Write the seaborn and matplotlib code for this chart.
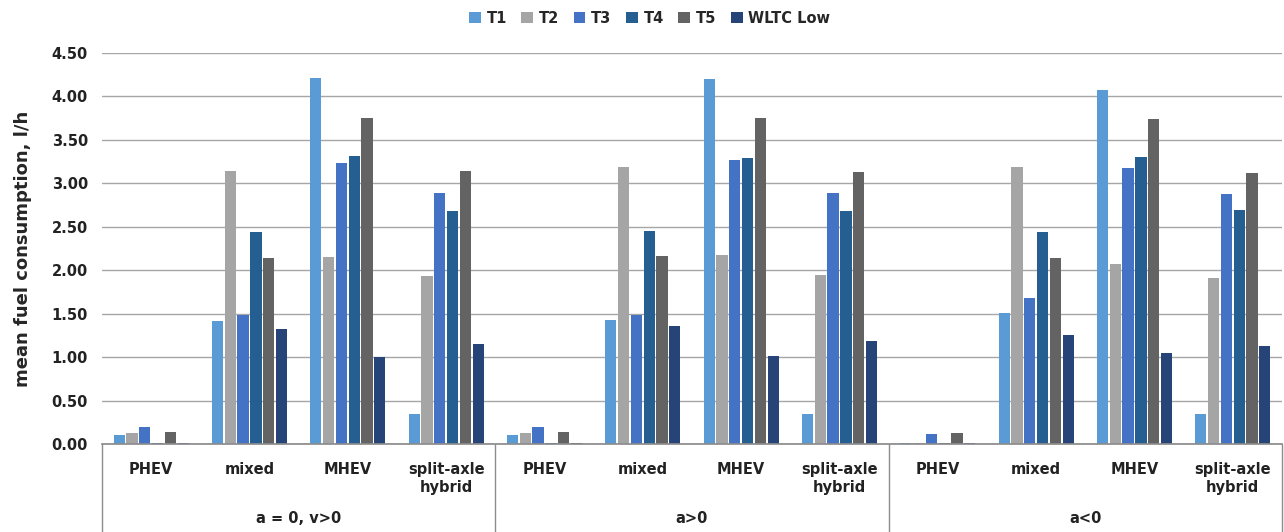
import numpy as np
import pandas as pd
import matplotlib
matplotlib.use("Agg")
import matplotlib.pyplot as plt
import matplotlib.transforms as mtransforms
import seaborn as sns

# data
conditions = ["a = 0, v>0", "a>0", "a<0"]
vehicles = ["PHEV", "mixed", "MHEV", "split-axle\nhybrid"]
series = ["T1", "T2", "T3", "T4", "T5", "WLTC Low"]

# one row per (condition, vehicle), columns follow `series`
vals_a0 = [
    [0.10, 0.13, 0.19, 0.01, 0.14, 0.01],
    [1.41, 3.14, 1.48, 2.44, 2.14, 1.32],
    [4.21, 2.15, 3.23, 3.31, 3.75, 1.00],
    [0.34, 1.93, 2.89, 2.68, 3.14, 1.15],
]
vals_apos = [
    [0.10, 0.13, 0.19, 0.01, 0.14, 0.01],
    [1.43, 3.19, 1.48, 2.45, 2.16, 1.36],
    [4.20, 2.17, 3.27, 3.29, 3.75, 1.01],
    [0.34, 1.94, 2.89, 2.68, 3.13, 1.18],
]
vals_aneg = [
    [0.01, 0.01, 0.11, 0.01, 0.13, 0.01],
    [1.51, 3.19, 1.68, 2.44, 2.14, 1.26],
    [4.07, 2.07, 3.18, 3.30, 3.74, 1.05],
    [0.34, 1.91, 2.88, 2.69, 3.12, 1.13],
]
colors = ["#5B9BD5", "#A5A5A5", "#4472C4", "#255E91", "#636363", "#264478"]

rows = []
for c_idx, block in enumerate([vals_a0, vals_apos, vals_aneg]):
    for v_idx, vals in enumerate(block):
        slot = f"{c_idx}-{v_idx}"
        for s, v in zip(series, vals):
            rows.append({"slot": slot, "series": s, "value": v})
df = pd.DataFrame(rows)
order = [f"{c}-{v}" for c in range(len(conditions)) for v in range(len(vehicles))]

sns.set_theme(style="white")
plt.rcParams["font.family"] = ["DejaVu Sans"]

fig = plt.figure(figsize=(12.84, 5.32), dpi=100)
ax = fig.add_axes([102 / 1284, 1 - 444 / 532, 1180 / 1284, 391 / 532])

sns.barplot(data=df, x="slot", y="value", hue="series", order=order,
            hue_order=series, palette=colors, width=0.78, gap=0.12,
            saturation=1, linewidth=0, ax=ax, legend=True)

ax.set_ylim(0, 4.5)
ax.set_xlim(-0.5, len(order) - 0.5)
ax.set_yticks(np.arange(0, 4.51, 0.5))
ax.set_yticklabels([f"{t:.2f}" for t in np.arange(0, 4.51, 0.5)],
                   fontsize=10.5, fontweight="bold", color="#222222")
ax.yaxis.grid(True, color="#A6A6A6", linewidth=1)
ax.set_axisbelow(True)
ax.tick_params(axis="y", length=0, pad=10)
ax.set_xticks([])
ax.set_xlabel("")
ax.set_ylabel("mean fuel consumption, l/h", fontsize=13, fontweight="bold",
              labelpad=14)
for side in ["top", "right", "left"]:
    ax.spines[side].set_visible(False)
ax.spines["bottom"].set_color("#8C8C8C")

# multi-level category axis
trans = mtransforms.blended_transform_factory(ax.transData, ax.transAxes)
depth = -88 / 391
for i, slot in enumerate(order):
    v_idx = i % len(vehicles)
    ax.text(i, -0.045, vehicles[v_idx], transform=trans, ha="center", va="top",
            fontsize=10.5, fontweight="bold", color="#222222", linespacing=1.3)
for c_idx, cond in enumerate(conditions):
    mid = c_idx * len(vehicles) + (len(vehicles) - 1) / 2
    ax.text(mid, -0.19, cond, transform=trans, ha="center", va="center",
            fontsize=10.5, fontweight="bold", color="#222222")
for b in range(len(conditions) + 1):
    xb = b * len(vehicles) - 0.5
    ax.plot([xb, xb], [0, depth], transform=trans, color="#8C8C8C",
            linewidth=1, clip_on=False)

# legend sits centred on the figure, not the axes
handles, labels = ax.get_legend_handles_labels()
ax.get_legend().remove()
fig.legend(handles, labels, loc="center", bbox_to_anchor=(0.506, 1 - 18 / 532),
           ncol=6, frameon=False, handlelength=0.8, handleheight=0.8,
           columnspacing=1.0, handletextpad=0.4,
           prop={"weight": "bold", "size": 10.5})

fig.savefig("out.png", dpi=100)
